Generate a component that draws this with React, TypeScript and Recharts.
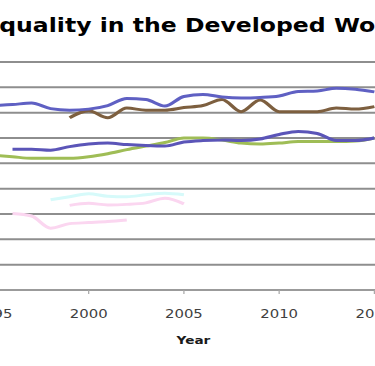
import React from 'react';
import { LineChart, Line, XAxis, YAxis, CartesianGrid, Label } from 'recharts';

const title = 'Inequality in the Developed World';
const xAxisTitle = 'Year';
const years = [1995, 1996, 1997, 1998, 1999, 2000, 2001, 2002, 2003, 2004, 2005, 2006, 2007, 2008, 2009, 2010, 2011, 2012, 2013, 2014, 2015];
const xTicks = [1995, 2000, 2005, 2010, 2015];
const yTicks = [0.05, 0.1, 0.15, 0.2, 0.25, 0.3, 0.35, 0.4, 0.45];

const seriesA = [0.364, 0.366, 0.369, 0.358, 0.355, 0.357, 0.364, 0.378, 0.376, 0.363, 0.382, 0.386, 0.381, 0.379, 0.380, 0.383, 0.392, 0.393, 0.398, 0.396, 0.391];
const seriesB = [null, null, null, null, 0.340, 0.354, 0.340, 0.359, 0.355, 0.355, 0.360, 0.364, 0.376, 0.352, 0.375, 0.352, 0.352, 0.352, 0.359, 0.357, 0.362];
const seriesC = [null, 0.278, 0.278, 0.276, 0.283, 0.288, 0.290, 0.287, 0.285, 0.284, 0.292, 0.295, 0.296, 0.295, 0.298, 0.307, 0.313, 0.309, 0.295, 0.295, 0.300];
const seriesD = [0.266, 0.263, 0.260, 0.260, 0.260, 0.263, 0.269, 0.277, 0.284, 0.291, 0.300, 0.300, 0.296, 0.290, 0.288, 0.290, 0.293, 0.293, 0.293, 0.294, 0.300];
const ghostPinkA = [null, null, null, null, 0.167, 0.171, 0.168, 0.169, 0.172, 0.181, 0.170, null, null, null, null, null, null, null, null, null, null];
const ghostCyan = [null, null, null, 0.178, 0.184, 0.190, 0.185, 0.184, 0.188, 0.191, 0.188, null, null, null, null, null, null, null, null, null, null];
const ghostPinkB = [null, 0.151, 0.146, 0.122, 0.131, 0.133, 0.135, 0.138, null, null, null, null, null, null, null, null, null, null, null, null, null];

const data = years.map((year, i) => ({
  year,
  a: seriesA[i],
  b: seriesB[i],
  c: seriesC[i],
  d: seriesD[i],
  gp1: ghostPinkA[i],
  gc: ghostCyan[i],
  gp2: ghostPinkB[i],
}));

const FONT = 'DejaVu Sans, Verdana, sans-serif';
const SX = 1.24;

export default function App() {
  return (
    <div style={{ position: 'fixed', left: 0, top: 0, width: 375, height: 366, overflow: 'hidden', background: '#fff' }}>
      <div style={{ position: 'absolute', left: 0, top: 0, width: 375 / SX, height: 366, transform: `scaleX(${SX})`, transformOrigin: '0 0' }}>
        <div style={{ position: 'absolute', left: -36.3, top: 0 }}>
          <LineChart width={384} height={366} data={data} margin={{ top: 62, right: 0, left: 0, bottom: 0 }}>
            <CartesianGrid vertical={false} stroke="#8e8e8e" strokeWidth={2} />
            <XAxis
              dataKey="year"
              type="number"
              domain={[1993, 2018]}
              ticks={xTicks}
              interval={0}
              height={76}
              tickSize={4}
              tickMargin={15}
              stroke="#a8a8a8"
              tick={{ fontSize: 12, fill: '#404040', fontFamily: FONT }}
            >
              <Label value={xAxisTitle} position="insideBottom" offset={22} style={{ fontSize: 11, fontWeight: 'bold', fill: '#1a1a1a', fontFamily: FONT }} />
            </XAxis>
            <YAxis hide type="number" domain={[0, 0.45]} ticks={yTicks} />
            <Line dataKey="gp2" type="monotone" stroke="#fbd6f0" strokeWidth={3} dot={false} isAnimationActive={false} />
            <Line dataKey="gc" type="monotone" stroke="#d6fafa" strokeWidth={3} dot={false} isAnimationActive={false} />
            <Line dataKey="gp1" type="monotone" stroke="#fbd6f0" strokeWidth={3} dot={false} isAnimationActive={false} />
            <Line dataKey="d" type="monotone" stroke="#9fbd56" strokeWidth={3} dot={false} isAnimationActive={false} />
            <Line dataKey="c" type="monotone" stroke="#5b55b8" strokeWidth={3} dot={false} isAnimationActive={false} />
            <Line dataKey="b" type="monotone" stroke="#7d5f3f" strokeWidth={3} dot={false} isAnimationActive={false} />
            <Line dataKey="a" type="monotone" stroke="#5f60c3" strokeWidth={3} dot={false} isAnimationActive={false} />
          </LineChart>
        </div>
        <svg style={{ position: 'absolute', left: 0, top: 0, overflow: 'visible' }} width={302} height={40}>
          <text x={149} y={32} textAnchor="middle" fontFamily={FONT} fontWeight="bold" fontSize={19} fill="#000">
            {title}
          </text>
        </svg>
      </div>
    </div>
  );
}
